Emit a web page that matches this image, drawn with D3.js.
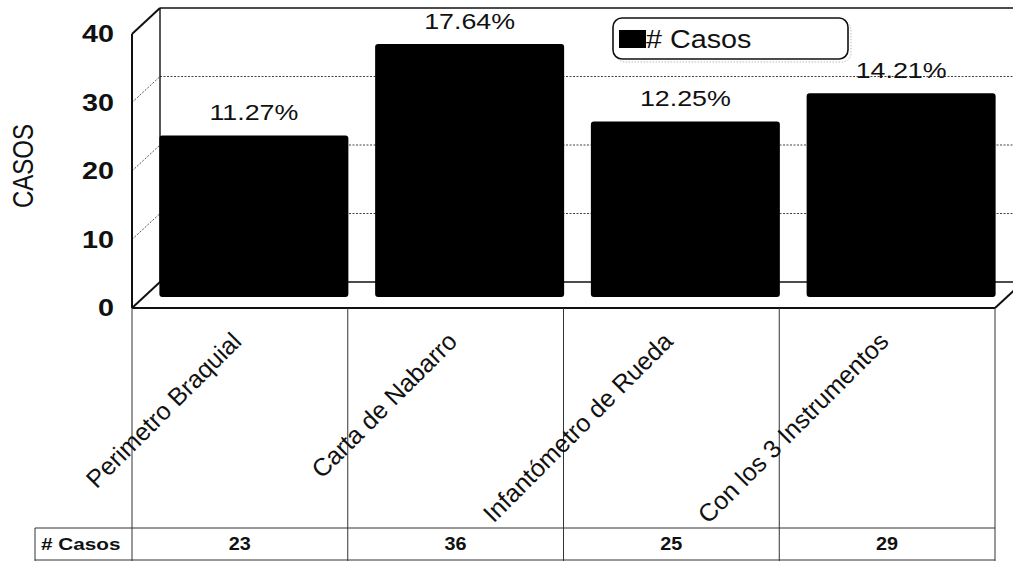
<!DOCTYPE html>
<html>
<head>
<meta charset="utf-8">
<script src="https://cdn.jsdelivr.net/npm/d3@7"></script>
<style>
  html, body { margin: 0; padding: 0; background: #fff; }
  svg { display: block; font-family: Arial, "Liberation Sans", sans-serif; }
</style>
</head>
<body>
<svg id="chart" width="1013" height="561"></svg>
<script>
// Casos por instrumento de medición
const categories = ["Perimetro Braquial", "Carta de Nabarro", "Infantómetro de Rueda", "Con los 3 Instrumentos"];
const casos = [23, 36, 25, 29];
const percentLabels = ["11.27%", "17.64%", "12.25%", "14.21%"];
const yTicks = [0, 10, 20, 30, 40];
const seriesName = "# Casos";
const yTitle = "CASOS";

const W = 1013, H = 561;
const svg = d3.select("#chart");

// horizontal stretch applied to text, giving the wide lettering of the printed chart
const textStretch = 1.22;

// 3D box: front plane and depth offset
const frontLeft = 132, frontRight = 995;
const depthX = 28, depthY = -26;

const yFront = d3.scaleLinear().domain([0, 40]).range([308, 34]);
const yBack = v => yFront(v) + depthY;
const yBar = d3.scaleLinear().domain([0, 40]).range([297, 16]);

const xCol = d3.scaleBand().domain(categories).range([frontLeft, frontRight]).paddingInner(0).paddingOuter(0);
const xBar = d3.scaleBand().domain(categories).range([frontLeft, frontRight]).paddingInner(0.124).paddingOuter(0.062);

const ink = "#111";

// Back wall and side wall gridlines (dotted)
const grid = svg.append("g");
yTicks.filter(t => t > 0 && t < 40).forEach(t => {
  grid.append("line")
    .attr("x1", frontLeft + depthX).attr("x2", W)
    .attr("y1", yBack(t)).attr("y2", yBack(t))
    .attr("stroke", "#444").attr("stroke-width", 1).attr("stroke-dasharray", "2,1.5");
  grid.append("line")
    .attr("x1", frontLeft).attr("x2", frontLeft + depthX)
    .attr("y1", yFront(t)).attr("y2", yBack(t))
    .attr("stroke", "#555").attr("stroke-width", 1).attr("stroke-dasharray", "2,1.5");
});

// Walls and floor outline
const frame = svg.append("g").attr("fill", "none").attr("stroke", ink);
frame.append("line").attr("x1", frontLeft + depthX).attr("x2", W)
  .attr("y1", yBack(40)).attr("y2", yBack(40)).attr("stroke-width", 1.6);
frame.append("line").attr("x1", frontLeft + depthX).attr("x2", frontLeft + depthX)
  .attr("y1", yBack(40)).attr("y2", yBack(0)).attr("stroke-width", 1.4);
frame.append("line").attr("x1", frontLeft).attr("x2", frontLeft)
  .attr("y1", yFront(40)).attr("y2", yFront(0)).attr("stroke-width", 2);
frame.append("line").attr("x1", frontLeft).attr("x2", frontLeft + depthX)
  .attr("y1", yFront(40)).attr("y2", yBack(40)).attr("stroke-width", 2);
frame.append("line").attr("x1", frontLeft).attr("x2", frontLeft + depthX)
  .attr("y1", yFront(0)).attr("y2", yBack(0)).attr("stroke-width", 2);
frame.append("line").attr("x1", frontLeft + depthX).attr("x2", W)
  .attr("y1", yBack(0)).attr("y2", yBack(0)).attr("stroke-width", 1.6);
frame.append("line").attr("x1", frontLeft).attr("x2", frontRight)
  .attr("y1", yFront(0)).attr("y2", yFront(0)).attr("stroke-width", 2.2);
frame.append("line").attr("x1", frontRight).attr("x2", frontRight + depthX)
  .attr("y1", yFront(0)).attr("y2", yBack(0)).attr("stroke-width", 2);

// Bars
svg.append("g").selectAll("rect").data(categories).join("rect")
  .attr("x", d => xBar(d) + depthX / 2)
  .attr("width", xBar.bandwidth())
  .attr("y", (d, i) => yBar(casos[i]))
  .attr("height", (d, i) => yBar(0) - yBar(casos[i]))
  .attr("rx", 3)
  .attr("fill", "#000");

// Percentage labels above bars
svg.append("g").selectAll("text").data(categories).join("text")
  .attr("transform", (d, i) => `translate(${xBar(d) + depthX / 2 + xBar.bandwidth() / 2},${yBar(casos[i]) - 15}) scale(${textStretch},1)`)
  .attr("text-anchor", "middle")
  .attr("font-size", 22)
  .attr("fill", ink)
  .text((d, i) => percentLabels[i]);

// Y axis tick labels
svg.append("g").selectAll("text").data(yTicks).join("text")
  .attr("transform", d => `translate(114,${yFront(d)}) scale(1.25,1)`)
  .attr("dy", "0.36em")
  .attr("text-anchor", "end")
  .attr("font-size", 23)
  .attr("font-weight", "bold")
  .attr("fill", ink)
  .text(d => d);

// Y axis title
svg.append("text")
  .attr("transform", `translate(33,166) scale(${textStretch},1) rotate(-90)`)
  .attr("text-anchor", "middle")
  .attr("font-size", 24)
  .attr("fill", ink)
  .text(yTitle);

// Legend
const lg = svg.append("g");
lg.append("rect").attr("x", 616).attr("y", 21).attr("width", 235).attr("height", 41).attr("rx", 9)
  .attr("fill", "none").attr("stroke", "#bbb").attr("stroke-width", 1).attr("stroke-dasharray", "1.5,1.5");
lg.append("rect").attr("x", 613).attr("y", 18).attr("width", 235).attr("height", 41).attr("rx", 9)
  .attr("fill", "#fff").attr("stroke", ink).attr("stroke-width", 1.6);
lg.append("rect").attr("x", 619).attr("y", 30).attr("width", 27).attr("height", 18).attr("fill", "#000");
lg.append("text").attr("transform", "translate(646,48) scale(1.15,1)")
  .attr("font-size", 25).attr("fill", ink).text(seriesName);

// Data table below the category axis
const table = svg.append("g").attr("stroke", "#333").attr("stroke-width", 1);
const rowTop = 528, rowBottom = 560;
xCol.domain().forEach(d => {
  table.append("line").attr("x1", xCol(d)).attr("x2", xCol(d)).attr("y1", yFront(0)).attr("y2", H);
});
table.append("line").attr("x1", frontRight).attr("x2", frontRight).attr("y1", yFront(0)).attr("y2", H);
table.append("line").attr("x1", 35).attr("x2", 35).attr("y1", rowTop).attr("y2", H);
table.append("line").attr("x1", 35).attr("x2", frontRight).attr("y1", rowTop).attr("y2", rowTop);
table.append("line").attr("x1", 35).attr("x2", frontRight).attr("y1", rowBottom).attr("y2", rowBottom);

svg.append("text").attr("transform", `translate(41,${(rowTop + rowBottom) / 2}) scale(${textStretch},1)`)
  .attr("dy", "0.36em")
  .attr("font-size", 17).attr("font-weight", "bold").attr("fill", ink).text(seriesName);
svg.append("g").selectAll("text").data(categories).join("text")
  .attr("transform", d => `translate(${xCol(d) + xCol.bandwidth() / 2},${(rowTop + rowBottom) / 2}) scale(1.1,1)`)
  .attr("dy", "0.36em")
  .attr("text-anchor", "middle").attr("font-size", 18).attr("font-weight", "bold").attr("fill", ink)
  .text((d, i) => casos[i]);

// Rotated category labels
svg.append("g").selectAll("text").data(categories).join("text")
  .attr("transform", d => `translate(${xCol(d) + xCol.bandwidth() / 2 + 3},${yFront(0) + 35}) rotate(-45)`)
  .attr("text-anchor", "end")
  .attr("font-size", 25)
  .attr("fill", ink)
  .text(d => d);
</script>
</body>
</html>
